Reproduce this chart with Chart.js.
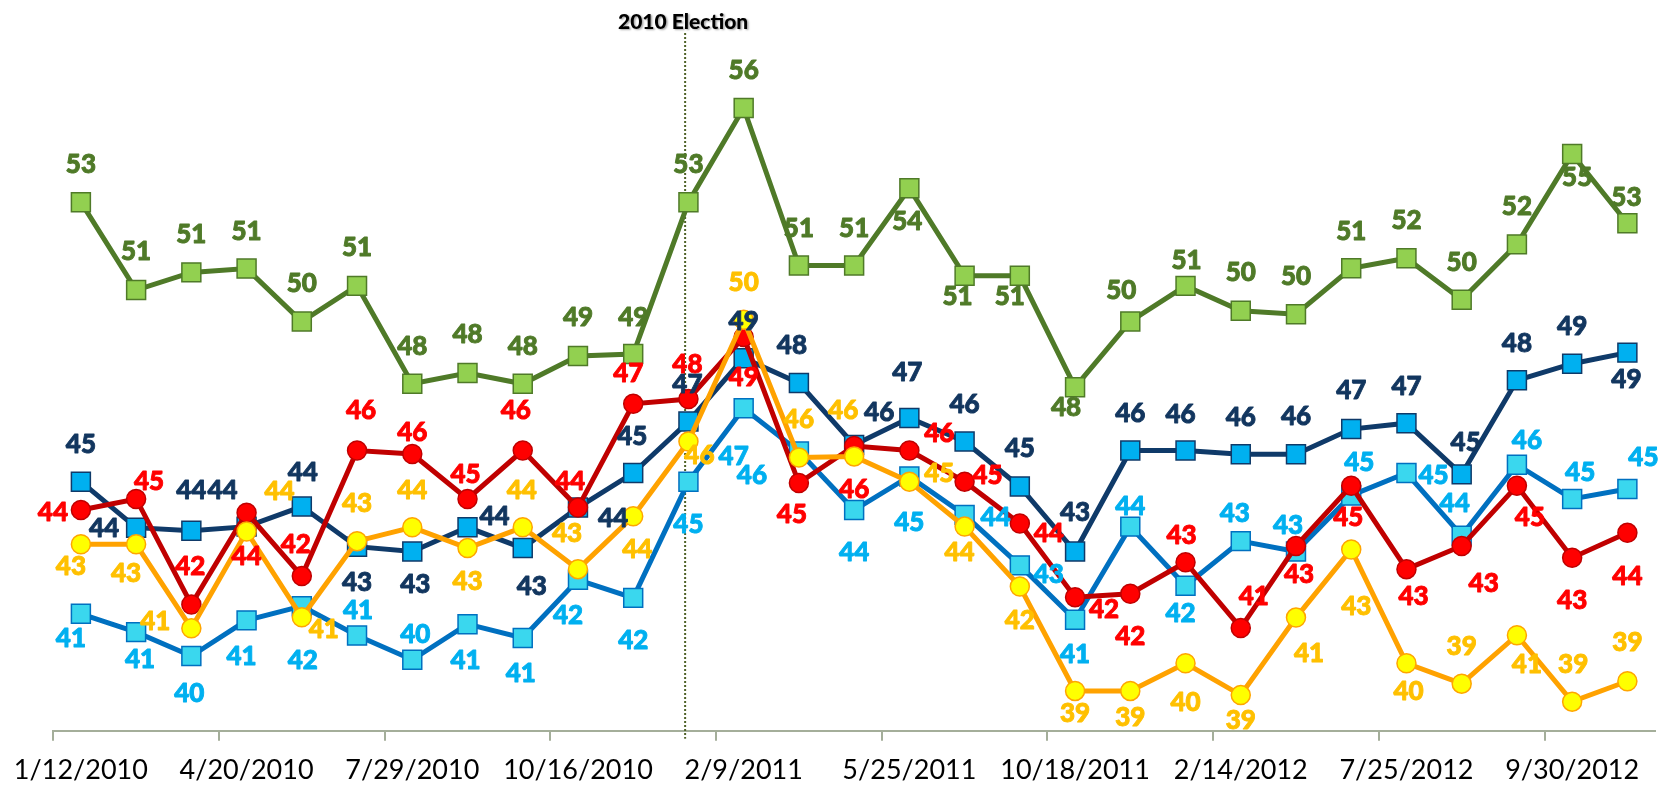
<!DOCTYPE html>
<html>
<head>
<meta charset="utf-8">
<script src="https://cdn.jsdelivr.net/npm/chart.js@4.4.1/dist/chart.umd.min.js"></script>
<style>
  html, body { margin: 0; padding: 0; background: #ffffff; }
  #wrap { width: 1672px; height: 786px; position: relative; }
  canvas { display: block; }
</style>
</head>
<body>
<div id="wrap"><canvas id="c" width="1672" height="786"></canvas></div>
<script>
// ---------------- DATA ----------------
// 29 survey waves; only every third date is printed on the axis in the original.
const categories = [
  '1/12/2010', '', '', '4/20/2010', '', '', '7/29/2010', '', '', '10/16/2010', '', '',
  '2/9/2011', '', '', '5/25/2011', '', '', '10/18/2011', '', '', '2/14/2012', '', '',
  '7/25/2012', '', '', '9/30/2012', ''
];

// values as plotted (labels show the rounded figure)
const seriesGreen = [53.28, 50.74, 51.25, 51.36, 49.83, 50.86, 48.03, 48.34, 48.03, 48.83, 48.89, 53.28, 56.0, 51.45, 51.45, 53.68, 51.15, 51.15, 47.93, 49.83, 50.86, 50.14, 50.04, 51.37, 51.66, 50.46, 52.06, 54.67, 52.67];
const seriesNavy  = [45.2, 43.87, 43.78, 43.9, 44.48, 43.32, 43.18, 43.88, 43.28, 44.45, 45.45, 46.94, 48.77, 48.05, 46.26, 47.04, 46.36, 45.06, 43.18, 46.1, 46.1, 45.99, 45.99, 46.72, 46.89, 45.41, 48.13, 48.61, 48.93];
const seriesCyan  = [41.38, 40.85, 40.16, 41.19, 41.6, 40.75, 40.05, 41.08, 40.68, 42.36, 41.84, 45.2, 47.32, 46.07, 44.38, 45.35, 44.24, 42.78, 41.21, 43.9, 42.19, 43.48, 43.18, 44.8, 45.45, 43.64, 45.69, 44.7, 44.99];
const seriesRed   = [44.38, 44.7, 41.65, 44.3, 42.47, 46.1, 46.0, 44.7, 46.1, 44.45, 47.45, 47.59, 49.38, 45.16, 46.23, 46.1, 45.2, 43.99, 41.86, 41.96, 42.87, 40.97, 43.34, 45.08, 42.67, 43.34, 45.08, 43.0, 43.72];
const seriesYellow = [43.39, 43.39, 40.96, 43.76, 41.28, 43.48, 43.88, 43.28, 43.88, 42.67, 44.2, 46.36, 49.88, 45.9, 45.93, 45.2, 43.9, 42.17, 39.15, 39.15, 39.95, 39.03, 41.27, 43.24, 39.95, 39.36, 40.76, 38.84, 39.43];

const electionIndex = 10.94;          // position of the election marker on the category axis
const electionText = '2010 Election';
const yMin = 38, yMax = 58;

// ---------------- LABEL PLACEMENT (layout, px offsets from each marker) ----------------
const offGreen = [[0,-39],[0,-39],[0,-39],[0,-38],[0,-39],[0,-39],[0,-38],[0,-39],[0,-38],[0,-39],[0,-37],[0,-39],[0,-38],[0,-38],[0,-38],[-2,32],[-7,20],[-10,20],[-9,19],[-9,-32],[1,-26],[0,-39],[0,-39],[0,-38],[0,-39],[0,-38],[0,-39],[5,23],[-1,-27]];
const offNavy = [[0,-38],[-32,0],[0,-41],[-24,-37],[1,-35],[0,35],[3,32],[27,-12],[9,38],[35,10],[-1,-37],[-1,-38],[0,-38],[-7,-38],[25,-33],[-2,-46],[0,-38],[0,-39],[0,-40],[0,-38],[-5,-37],[0,-38],[0,-39],[0,-39],[0,-38],[4,-33],[0,-38],[0,-38],[-1,26]];
const offCyan = [[-10,24],[4,26],[-2,37],[-5,35],[1,53],[1,-26],[3,-26],[-2,35],[-2,35],[-10,35],[0,42],[0,42],[-10,47],[-47,23],[0,42],[0,45],[31,2],[29,8],[0,34],[0,-21],[-5,27],[-6,-29],[-8,-27],[8,-34],[27,2],[-7,-33],[10,-25],[8,-27],[16,-32]];
const offRed = [[-28,2],[13,-18],[-1,-39],[0,43],[-6,-32],[4,-41],[0,-22],[-2,-25],[-7,-41],[-8,-27],[-5,-31],[-1,-35],[0,40],[-7,31],[0,43],[30,-18],[23,-7],[29,9],[29,11],[0,42],[-4,-28],[13,-32],[3,28],[-3,31],[7,26],[22,37],[13,31],[0,42],[0,43]];
const offYellow = [[-10,21],[-10,28],[-36,-8],[33,-41],[22,11],[0,-39],[0,-38],[0,33],[-1,-38],[-11,-37],[4,32],[11,13],[0,-38],[0,-39],[-11,-47],[30,-9],[-5,25],[0,33],[0,22],[0,26],[0,38],[0,25],[13,35],[5,56],[2,27],[0,-38],[10,28],[1,-38],[0,-40]];

const FONT = 'Lato, "Open Sans", sans-serif';
const axisColor = '#A4AE9A';

function ds(data, lineColor, fill, border, style, radius, labelColor, offsets) {
  return {
    data: data,
    borderColor: lineColor,
    borderWidth: 5,
    backgroundColor: fill,
    pointBackgroundColor: fill,
    pointBorderColor: border,
    pointBorderWidth: 1.5,
    pointStyle: style,
    pointRadius: radius,
    pointHoverRadius: radius,
    tension: 0,
    fill: false,
    clip: false,
    labelColor: labelColor,
    labelOffsets: offsets
  };
}

const pointLabels = {
  id: 'pointLabels',
  afterDatasetsDraw(chart) {
    const ctx = chart.ctx;
    const n = chart.data.datasets.length;
    for (let di = n - 1; di >= 0; di--) {
      const d = chart.data.datasets[di];
      const meta = chart.getDatasetMeta(di);
      ctx.save();
      ctx.font = '900 26px ' + FONT;
      ctx.fillStyle = d.labelColor;
      ctx.strokeStyle = d.labelColor;
      ctx.lineWidth = 0.9;
      ctx.lineJoin = 'round';
      ctx.textAlign = 'center';
      ctx.textBaseline = 'alphabetic';
      meta.data.forEach((pt, i) => {
        const o = d.labelOffsets[i] || [0, -38];
        const t = String(Math.round(d.data[i]));
        const lx = pt.x + o[0], ly = pt.y + o[1] + 9.4;
        ctx.fillText(t, lx, ly);
        ctx.strokeText(t, lx, ly);
      });
      ctx.restore();
    }
  }
};

const electionMarker = {
  id: 'electionMarker',
  beforeDatasetsDraw(chart) {
    const x = chart.scales.x.getPixelForValue(electionIndex);
    const ctx = chart.ctx;
    ctx.save();
    ctx.strokeStyle = '#4F6228';
    ctx.lineWidth = 2;
    ctx.setLineDash([2, 2]);
    ctx.beginPath();
    ctx.moveTo(x, 33);
    ctx.lineTo(x, chart.chartArea.bottom + 8);
    ctx.stroke();
    ctx.restore();
  },
  afterDraw(chart) {
    const x = chart.scales.x.getPixelForValue(electionIndex);
    const ctx = chart.ctx;
    ctx.save();
    ctx.font = '900 21px ' + FONT;
    ctx.textAlign = 'center';
    ctx.textBaseline = 'alphabetic';
    ctx.shadowColor = 'rgba(0,0,0,0.35)';
    ctx.shadowBlur = 2;
    ctx.shadowOffsetX = 1.5;
    ctx.shadowOffsetY = 1.5;
    ctx.fillStyle = '#000000';
    ctx.fillText(electionText, x - 2, 28.5);
    ctx.restore();
  }
};

function build() {
  new Chart(document.getElementById('c'), {
    type: 'line',
    data: {
      labels: categories,
      datasets: [
        ds(seriesYellow, '#FFA200', '#FFFF00', '#FFA500', 'circle', 9.5, '#FFC000', offYellow),
        ds(seriesRed, '#C00000', '#FF0000', '#C00000', 'circle', 9.5, '#FF0000', offRed),
        ds(seriesCyan, '#0070C0', '#3AD7EE', '#0070C0', 'rect', 13.4, '#00B0F0', offCyan),
        ds(seriesNavy, '#0F3A69', '#00B0F0', '#0F3A69', 'rect', 13.4, '#12365F', offNavy),
        ds(seriesGreen, '#4F7A28', '#92D050', '#4F7A28', 'rect', 13.4, '#4F7A28', offGreen)
      ]
    },
    options: {
      responsive: false,
      animation: false,
      events: [],
      layout: { padding: { left: 50.7, right: 17, top: 38.9, bottom: 0 } },
      plugins: { legend: { display: false }, tooltip: { enabled: false }, title: { display: false } },
      scales: {
        x: {
          type: 'category',
          offset: true,
          afterFit: (scale) => { scale.height = 55.3; },
          border: { display: true, color: axisColor, width: 2 },
          grid: {
            display: true,
            offset: true,
            drawOnChartArea: false,
            drawTicks: true,
            tickLength: 10,
            lineWidth: 2,
            color: (c) => (c.type === 'tick' && c.index % 3 === 0) ? axisColor : 'rgba(0,0,0,0)'
          },
          ticks: {
            autoSkip: false,
            maxRotation: 0,
            minRotation: 0,
            padding: 13,
            color: '#000000',
            font: { family: FONT, size: 27 }
          }
        },
        y: { display: false, min: yMin, max: yMax }
      }
    },
    plugins: [electionMarker, pointLabels]
  });
}

Promise.all([
  document.fonts.load('900 26px Lato'),
  document.fonts.load('27px Lato'),
  document.fonts.load('900 21px Lato')
]).then(build, build);
</script>
</body>
</html>
